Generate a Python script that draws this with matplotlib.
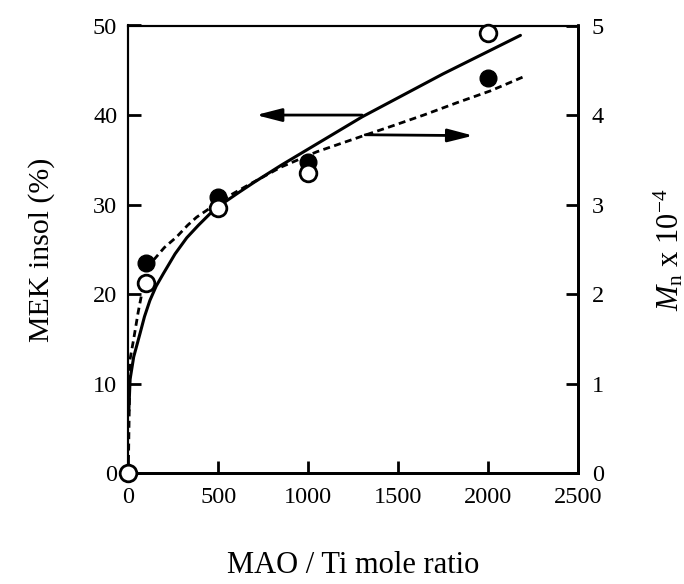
import matplotlib
matplotlib.use("Agg")
import matplotlib.pyplot as plt

plt.rcParams['font.family'] = ['Liberation Serif', 'DejaVu Serif']
plt.rcParams['mathtext.fontset'] = 'custom'
plt.rcParams['mathtext.rm'] = 'Liberation Serif'
plt.rcParams['mathtext.it'] = 'Liberation Serif:italic'

# Data
mao_ti = [0, 100, 500, 1000, 2000]
mek_insol = [0, 21.2, 29.6, 33.5, 49.2]          # open circles, left axis (%)
mao_ti_mn = [100, 500, 1000, 2000]
mn_vals = [2.35, 3.09, 3.48, 4.41]               # filled circles, right axis (x 10^-4)

# Fitted curves
solid_x = [3, 10, 30, 65, 90, 120, 155, 195, 260, 325, 390, 455, 530, 610, 700,
           850, 1000, 1150, 1300, 1450, 1600, 1750, 1900, 2050, 2180]
solid_y = [7.0, 10.5, 13.0, 15.6, 17.5, 19.3, 20.9, 22.3, 24.5, 26.3, 27.7, 29.0, 30.2, 31.3, 32.5,
           34.4, 36.2, 38.0, 39.8, 41.4, 43.0, 44.6, 46.1, 47.6, 48.9]
dash_x = [0, 3, 6, 9.5, 30, 55, 82, 110, 140, 200, 269, 330, 380, 490, 580, 677,
          850, 1048, 1308, 1470, 1642, 1830, 2013, 2200]
dash_y = [0, 0.4, 0.8, 1.27, 1.5, 1.8, 2.08, 2.24, 2.38, 2.52, 2.64, 2.77, 2.86, 3.01, 3.12, 3.23,
          3.42, 3.59, 3.77, 3.88, 4.0, 4.14, 4.27, 4.43]

xticks = [0, 500, 1000, 1500, 2000, 2500]
yticks_left = [0, 10, 20, 30, 40, 50]
yticks_right = [0, 1, 2, 3, 4, 5]

W, H = 684, 584
fig = plt.figure(figsize=(W / 100, H / 100), dpi=100)
left, right, bottom, top = 128.3, 578, 473.3, 25.5
ax = fig.add_axes([left / W, 1 - bottom / H, (right - left) / W, (bottom - top) / H])
ax2 = ax.twinx()

ax.set_xlim(0, 2500)
ax.set_ylim(0, 50)
ax2.set_ylim(0, 5)
ax.set_xticks(xticks)
ax.set_yticks(yticks_left)
ax2.set_yticks(yticks_right)

ax.tick_params(axis='both', direction='in', length=9, width=2, labelsize=17.5, pad=8)
ax.tick_params(axis='x', pad=10)
ax2.tick_params(axis='y', direction='in', length=9, width=2, labelsize=17.5, pad=10)

for a in (ax, ax2):
    for name, sp in a.spines.items():
        sp.set_linewidth(2.0 if name in ('bottom', 'right') else 1.5)

# curves
ax.plot(solid_x, solid_y, color='black', lw=2.2, solid_capstyle='round', zorder=3)
ax2.plot(dash_x, dash_y, color='black', lw=2.0, dashes=(2.5, 1.6), zorder=3)

# markers
ax2.plot(mao_ti_mn, mn_vals, 'o', color='black', ms=12, zorder=4, clip_on=False)
ax.plot(mao_ti, mek_insol, 'o', mfc='white', mec='black', mew=2, ms=12, zorder=5, clip_on=False)
ax.set_zorder(ax2.get_zorder() + 1)
ax.patch.set_visible(False)

# arrows
ap = dict(arrowstyle='-|>,head_length=0.7,head_width=0.18', lw=2, color='black',
          mutation_scale=22, shrinkA=0, shrinkB=0)
ax.annotate('', xy=(710, 40.0), xytext=(1300, 40.0), arrowprops=ap)
ax.annotate('', xy=(1918, 37.7), xytext=(1317, 37.8), arrowprops=ap)

ax.set_xlabel('MAO / Ti mole ratio', fontsize=22, labelpad=31)
ax.set_ylabel('MEK insol (%)', fontsize=21.5, labelpad=27)
ax2.set_ylabel(r'$M_\mathrm{n}$ x 10$^{-4}$', fontsize=22, labelpad=34)

fig.savefig('out.png', dpi=100)
